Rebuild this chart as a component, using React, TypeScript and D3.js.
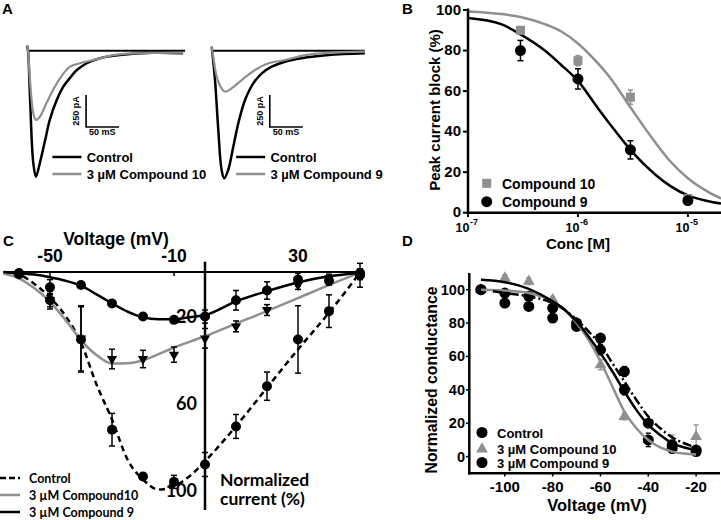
import React from 'react';
import * as d3 from 'd3';

const ARIAL = '"Liberation Sans", Arial, sans-serif';
const CALIBRI = 'Lato, "Open Sans", sans-serif';
const GREY = '#8f8f8f';

// ---- A: current traces, [time ms, current pA]
const leftControl = [[-1.5, 40], [0, 0], [3, -359], [8, -877], [12, -984], [18, -877], [26, -698], [33, -541], [43.5, -385], [53.5, -281], [63.5, -213], [74, -151], [89, -98], [109, -59], [139, -34], [189, -16], [235, -20]];
const leftCmpd10 = [[-1.5, 45], [0, 0], [3, -229], [8, -487], [12, -541], [18, -516], [28, -409], [38, -307], [48.5, -216], [63.5, -125], [79, -98], [99, -73], [129, -34], [165, -20], [235, -16]];
const rightControl = [[0, 31], [5, -229], [10, -620], [15, -932], [19, -997], [25, -932], [32.7, -750], [40.3, -567], [50.5, -385], [63, -255], [76, -177], [91, -125], [111, -86], [136, -59], [177, -34], [232, -20]];
const rightCmpd9 = [[0, 31], [2.4, -47], [7.6, -203], [15, -294], [20, -320], [30, -294], [45.5, -229], [65.6, -151], [86, -98], [111, -73], [141, -34], [177, -16], [232, -8]];

// ---- B: concentration response
const concs = [3e-7, 1e-6, 3e-6, 1e-5];
const block10 = [90, 75, 57, 7];
const block10Err = [1, 2.5, 3.5, 1];
const block9 = [80, 66, 31, 6];
const block9Err = [5, 5, 4.5, 1.5];
const fitConc = [1e-7, 2e-7, 3e-7, 5e-7, 7e-7, 1e-6, 1.5e-6, 2e-6, 3e-6, 5e-6, 7e-6, 1e-5, 1.5e-5, 2e-5];
const fit10 = [99.3, 98, 96.5, 93, 89.5, 83.5, 74, 66, 52, 35, 25, 17, 10.5, 7];
const fit9 = [96, 93, 88, 80, 73, 65, 52, 43, 31, 19, 13, 8.5, 5.8, 4.5];
const bTicks = [-7, -6, -5];

// ---- C: current-voltage
const ivVolt = [-60, -50, -40, -30, -20, -10, 0, 10, 20, 30, 40, 50];
const ivControl = [1, 13, 31, 72.5, 94, 96.5, 88.5, 71, 52.5, 31, 18, 1.5];
const ivControlErr = [1, 4, 15, 7.5, 1, 3, 5.5, 5.5, 6.5, 15.5, 7.5, 5.5];
const ivCmpd10 = [1, 13, 30.5, 40, 40, 38, 30.5, 25, 17.5, 6, 3, 1.5];
const ivCmpd10Err = [1, 3, 15, 4.5, 4, 3.5, 4.5, 2.5, 2.5, 2, 2, 2];
const ivCmpd9 = [0.5, 7, 6, 14.5, 20.5, 22, 20.5, 13, 8.5, 3.5, 4, 0.5];
const ivCmpd9Err = [1, 3.5, 0.5, 0.5, 0.5, 1, 3, 4.5, 4, 3, 2, 2];
const ivFitVolt = [-65, -60, -55, -50, -45, -40, -35, -30, -25, -20, -15, -10, -5, 0, 10, 20, 30, 40, 50];
const ivFitControl = [0.3, 1.3, 5.5, 11.7, 20.2, 32.5, 51.7, 67.8, 86.2, 95.4, 100, 98.5, 93.9, 87, 70.9, 53.2, 35.6, 18.7, 0.3];
const ivFit10 = [0.7, 2.9, 7.5, 13.7, 22.1, 31.3, 38.2, 42.1, 42, 40.6, 37.8, 34.7, 32.1, 29.5, 23.7, 18, 12, 6, 0.3];
const ivFit9 = [0, 0.6, 1.2, 2.4, 4, 6.3, 10.3, 14.4, 18.2, 20.8, 21.7, 21.7, 20.8, 19.8, 13.5, 8.8, 4.8, 2, 0.5];
const ivTopTicks = [-50, -10, 30];
const ivSideTicks = [20, 60, 100];

// ---- D: conductance-voltage
const gvVolt = [-110, -100, -90, -80, -70, -60, -50, -40, -30, -20];
const gvControl = [100, 98, 96, 89, 80, 71, 51, 20, 7, 4];
const gvControlErr = [0, 2, 2, 2, 2, 2, 3, 2, 3, 1];
const gvCmpd10 = [100, 107, 105, 94, 80, 55, 24, 10, 8, 12];
const gvCmpd10Err = [0, 2, 2, 2, 2, 3, 2, 4, 5, 7];
const gvCmpd9 = [100, 92, 90, 83, 78, 64, 40, 10, 5, 3];
const gvCmpd9Err = [0, 2, 2, 2, 2, 3, 3, 4, 3, 1];
const gvFitVolt = [-110, -100, -90, -80, -75, -70, -65, -60, -55, -50, -45, -40, -35, -30, -25, -20];
const gvFitSolid = [106, 104.5, 100.5, 93, 88, 81, 72, 62, 51, 39, 28, 19, 13, 8, 5.5, 4];
const gvFitGrey = [100, 99.5, 98, 93, 88, 80, 70, 57, 42, 27, 17, 10, 5.5, 3, 1.8, 1.2];
const gvFitDashDotVolt = [-105, -100, -90, -80, -75, -70, -65, -60, -55, -50, -45, -40, -35, -30, -25, -20];
const gvFitDashDot = [99, 98, 96, 92, 88, 82, 75, 67, 56, 45, 34, 24, 17, 11.5, 8, 5.5];
const gvXTicks = [-100, -80, -60, -40, -20];
const gvYTicks = [0, 20, 40, 60, 80, 100];

type Pt = [number, number];
const zip = (xs: number[], ys: number[]): Pt[] => xs.map((x, i) => [x, ys[i]]);

function ErrBar({ x, y0, y1, cap = 6, color = '#000', w = 1.5 }: any) {
  return (
    <g stroke={color} strokeWidth={w}>
      <line x1={x} x2={x} y1={y0} y2={y1} />
      <line x1={x - cap / 2} x2={x + cap / 2} y1={y0} y2={y0} />
      <line x1={x - cap / 2} x2={x + cap / 2} y1={y1} y2={y1} />
    </g>
  );
}

function PanelA() {
  const cur = d3.scaleLinear().domain([0, -250]).range([50.7, 82.7]);
  const panels = [
    { x0: 28, control: leftControl, drug: leftCmpd10, label: '3 \u00B5M Compound 10' },
    { x0: 211.7, control: rightControl, drug: rightCmpd9, label: '3 \u00B5M Compound 9' },
  ];
  return (
    <g>
      <text x={2} y={14} fontFamily={ARIAL} fontWeight="bold" fontSize={15}>A</text>
      {panels.map((p, i) => {
        const t = d3.scaleLinear().domain([0, 50]).range([p.x0, p.x0 + 33]);
        const ln = d3.line<number[]>().x(d => t(d[0])).y(d => cur(d[1])).curve(d3.curveCatmullRom);
        const bx = t(88), by0 = cur(-346), by1 = cur(-596);
        return (
          <g key={i}>
            <line x1={t(0)} x2={t(i === 0 ? 238 : 232)} y1={cur(0)} y2={cur(0)} stroke="#000" strokeWidth={2} />
            <path d={ln(p.control) || ''} fill="none" stroke="#000" strokeWidth={2.5} />
            <path d={ln(p.drug) || ''} fill="none" stroke={GREY} strokeWidth={2.2} />
            <path d={`M${bx},${by0}V${by1}H${t(138)}`} fill="none" stroke="#000" strokeWidth={1.6} />
            <text transform={`translate(${bx - 7},${(by0 + by1) / 2}) rotate(-90)`} textAnchor="middle"
              fontFamily={ARIAL} fontWeight="bold" fontSize={9}>250 pA</text>
            <text x={bx + 3} y={by1 + 8} fontFamily={ARIAL} fontWeight="bold" fontSize={9}>50 mS</text>
            <line x1={t(37)} x2={t(81)} y1={157} y2={157} stroke="#000" strokeWidth={2.5} />
            <line x1={t(37)} x2={t(81)} y1={174} y2={174} stroke={GREY} strokeWidth={2.5} />
            <text x={t(89)} y={162} fontFamily={ARIAL} fontWeight="bold" fontSize={13}>Control</text>
            <text x={t(89)} y={179} fontFamily={ARIAL} fontWeight="bold" fontSize={13}>{p.label}</text>
          </g>
        );
      })}
    </g>
  );
}

function PanelB() {
  const x = d3.scaleLog().domain([1e-7, 2e-5]).range([468, 721]);
  const y = d3.scaleLinear().domain([0, 100]).range([212.7, 10]);
  const ln = d3.line<Pt>().x(d => x(d[0])).y(d => y(d[1])).curve(d3.curveMonotoneX);
  return (
    <g fontFamily={ARIAL} fontWeight="bold">
      <text x={402} y={14} fontSize={15}>B</text>
      <path d={ln(zip(fitConc, fit10)) || ''} fill="none" stroke={GREY} strokeWidth={2.5} />
      <path d={ln(zip(fitConc, fit9)) || ''} fill="none" stroke="#000" strokeWidth={2.5} />
      {concs.map((c, i) => (
        <g key={'e' + i}>
          <ErrBar x={x(c)} y0={y(block10[i] + block10Err[i])} y1={y(block10[i] - block10Err[i])} color={GREY} cap={5} />
          <ErrBar x={x(c)} y0={y(block9[i] + block9Err[i])} y1={y(block9[i] - block9Err[i])} cap={6} />
        </g>
      ))}
      {concs.map((c, i) => (
        <rect key={'s' + i} x={x(c) - 4.5} y={y(block10[i]) - 4.5} width={9} height={9} fill={GREY} />
      ))}
      {concs.map((c, i) => (
        <circle key={'c' + i} cx={x(c)} cy={y(block9[i])} r={5.5} fill="#000" />
      ))}
      <line x1={468} x2={468} y1={8.5} y2={214} stroke="#000" strokeWidth={2.5} />
      <line x1={467} x2={721} y1={212.7} y2={212.7} stroke="#000" strokeWidth={2.5} />
      {y.ticks(5).map(v => (
        <g key={v}>
          <line x1={463} x2={468} y1={y(v)} y2={y(v)} stroke="#000" strokeWidth={2} />
          <text x={461} y={y(v) + 4.5} textAnchor="end" fontSize={15}>{v}</text>
        </g>
      ))}
      {bTicks.map(p => (
        <g key={p}>
          <line x1={x(10 ** p)} x2={x(10 ** p)} y1={212.7} y2={217} stroke="#000" strokeWidth={2} />
          <text x={x(10 ** p) + 1.5} y={232} textAnchor="end" fontSize={12.5}>10</text>
          <text x={x(10 ** p) + 2} y={224.5} fontSize={9}>{'-' + -p}</text>
        </g>
      ))}
      <text x={578} y={249} textAnchor="middle" fontSize={15}>Conc [M]</text>
      <text transform="translate(440,110) rotate(-90)" textAnchor="middle" fontSize={15}>Peak current block (%)</text>
      <rect x={482.2} y={178.8} width={9} height={9} fill={GREY} />
      <text x={502} y={188.5} fontSize={14}>Compound 10</text>
      <circle cx={486.7} cy={201.7} r={5.5} fill="#000" />
      <text x={502} y={207} fontSize={14}>Compound 9</text>
    </g>
  );
}

function PanelC() {
  const x = d3.scaleLinear().domain([-50, 30]).range([50, 298]);
  const y = d3.scaleLinear().domain([0, 100]).range([272, 489.5]);
  const ln = d3.line<Pt>().x(d => x(d[0])).y(d => y(d[1])).curve(d3.curveMonotoneX);
  const tri = d3.symbol().type(d3.symbolTriangle).size(45)() || '';
  return (
    <g>
      <text x={3} y={246} fontFamily={ARIAL} fontWeight="bold" fontSize={15}>C</text>
      <text x={116} y={245} textAnchor="middle" fontFamily={ARIAL} fontWeight="bold" fontSize={17.5}>Voltage (mV)</text>
      {ivTopTicks.map(v => (
        <g key={v}>
          <text x={x(v)} y={262} textAnchor="middle" fontFamily={ARIAL} fontWeight="bold" fontSize={17.5}>{v}</text>
          <line x1={x(v)} x2={x(v)} y1={272} y2={276} stroke="#000" strokeWidth={1.5} />
        </g>
      ))}
      <line x1={x(-65)} x2={x(50)} y1={272} y2={272} stroke="#000" strokeWidth={2} />
      <line x1={x(0)} x2={x(0)} y1={261.7} y2={510} stroke="#000" strokeWidth={2.5} />
      <path d={ln(zip(ivFitVolt, ivFitControl)) || ''} fill="none" stroke="#000" strokeWidth={2.5} strokeDasharray="6,4" />
      <path d={ln(zip(ivFitVolt, ivFit10)) || ''} fill="none" stroke={GREY} strokeWidth={2.5} />
      <path d={ln(zip(ivFitVolt, ivFit9)) || ''} fill="none" stroke="#000" strokeWidth={2.5} />
      {ivVolt.map((v, i) => (
        <g key={'e' + i}>
          <ErrBar x={x(v)} y0={y(ivControl[i] - ivControlErr[i])} y1={y(ivControl[i] + ivControlErr[i])} />
          <ErrBar x={x(v)} y0={y(ivCmpd10[i] - ivCmpd10Err[i])} y1={y(ivCmpd10[i] + ivCmpd10Err[i])} />
          <ErrBar x={x(v)} y0={y(ivCmpd9[i] - ivCmpd9Err[i])} y1={y(ivCmpd9[i] + ivCmpd9Err[i])} />
        </g>
      ))}
      {ivVolt.map((v, i) => (
        <path key={'t' + i} d={tri} transform={`translate(${x(v)},${y(ivCmpd10[i])}) rotate(180)`} fill="#000" />
      ))}
      {ivVolt.map((v, i) => (
        <g key={'c' + i}>
          <circle cx={x(v)} cy={y(ivControl[i])} r={5} fill="#000" />
          <circle cx={x(v)} cy={y(ivCmpd9[i])} r={5} fill="#000" />
        </g>
      ))}
      {ivSideTicks.map(v => (
        <text key={v} x={197} y={y(v) + 7.5} textAnchor="end" fontFamily={CALIBRI} fontWeight="bold" fontSize={18}>{v}</text>
      ))}
      <text x={220} y={486} fontFamily={CALIBRI} fontWeight="bold" fontSize={17.5}>Normalized</text>
      <text x={220} y={505} fontFamily={CALIBRI} fontWeight="bold" fontSize={17.5}>current (%)</text>
      <line x1={0} x2={20} y1={478} y2={478} stroke="#000" strokeWidth={2.5} strokeDasharray="6,3" />
      <line x1={0} x2={20} y1={495} y2={495} stroke={GREY} strokeWidth={2.5} />
      <line x1={0} x2={20} y1={512} y2={512} stroke="#000" strokeWidth={2.5} />
      <g fontFamily={CALIBRI} fontWeight="bold" fontSize={12.5}>
        <text x={29} y={482.5}>Control</text>
        <text x={29} y={499.5}>3 µM Compound10</text>
        <text x={29} y={516.5}>3 µM Compound 9</text>
      </g>
    </g>
  );
}

function PanelD() {
  const x = d3.scaleLinear().domain([-115, -10]).range([469, 720]);
  const y = d3.scaleLinear().domain([-10, 110]).range([473.3, 273]);
  const ln = d3.line<Pt>().x(d => x(d[0])).y(d => y(d[1])).curve(d3.curveMonotoneX);
  const tri = d3.symbol().type(d3.symbolTriangle).size(60)() || '';
  return (
    <g fontFamily={ARIAL} fontWeight="bold">
      <text x={402} y={246} fontSize={15}>D</text>
      {gvVolt.map((v, i) => (
        <g key={'e' + i}>
          <ErrBar x={x(v)} y0={y(gvCmpd10[i] + gvCmpd10Err[i])} y1={y(gvCmpd10[i] - gvCmpd10Err[i])} color={GREY} cap={5} w={1.3} />
          <ErrBar x={x(v)} y0={y(gvControl[i] + gvControlErr[i])} y1={y(gvControl[i] - gvControlErr[i])} cap={5} w={1.3} />
          <ErrBar x={x(v)} y0={y(gvCmpd9[i] + gvCmpd9Err[i])} y1={y(gvCmpd9[i] - gvCmpd9Err[i])} cap={5} w={1.3} />
        </g>
      ))}
      {gvVolt.map((v, i) => (
        <path key={'t' + i} d={tri} transform={`translate(${x(v)},${y(gvCmpd10[i])})`} fill={GREY} />
      ))}
      {gvVolt.map((v, i) => (
        <g key={'c' + i}>
          <circle cx={x(v)} cy={y(gvControl[i])} r={5.5} fill="#000" />
          <circle cx={x(v)} cy={y(gvCmpd9[i])} r={5.5} fill="#000" />
        </g>
      ))}
      <path d={ln(zip(gvFitVolt, gvFitGrey)) || ''} fill="none" stroke={GREY} strokeWidth={2.5} />
      <path d={ln(zip(gvFitVolt, gvFitSolid)) || ''} fill="none" stroke="#000" strokeWidth={2.5} />
      <path d={ln(zip(gvFitDashDotVolt, gvFitDashDot)) || ''} fill="none" stroke="#000" strokeWidth={2.5} strokeDasharray="9,3,2,3" />
      <line x1={469.3} x2={469.3} y1={273} y2={474.5} stroke="#000" strokeWidth={2.5} />
      <line x1={468} x2={720} y1={473.3} y2={473.3} stroke="#000" strokeWidth={2.5} />
      {gvYTicks.map(v => (
        <g key={v}>
          <line x1={466} x2={469} y1={y(v)} y2={y(v)} stroke="#000" strokeWidth={1.5} />
          <text x={465} y={y(v) + 5} textAnchor="end" fontSize={14.5}>{v}</text>
        </g>
      ))}
      {gvXTicks.map(v => (
        <g key={v}>
          <line x1={x(v)} x2={x(v)} y1={473.3} y2={476.5} stroke="#000" strokeWidth={1.5} />
          <text x={x(v)} y={492} textAnchor="middle" fontSize={15}>{v}</text>
        </g>
      ))}
      <text x={597} y={511} textAnchor="middle" fontSize={16.5}>Voltage (mV)</text>
      <text transform="translate(437,380) rotate(-90)" textAnchor="middle" fontSize={15.8}>Normalized conductance</text>
      <circle cx={482} cy={432.5} r={5.5} fill="#000" />
      <path d={tri} transform="translate(482,449)" fill={GREY} />
      <circle cx={482} cy={462.5} r={5.5} fill="#000" />
      <g fontSize={13}>
        <text x={497} y={437.5}>Control</text>
        <text x={497} y={454}>3 µM Compound 10</text>
        <text x={497} y={467.5}>3 µM Compound 9</text>
      </g>
    </g>
  );
}

export default function App() {
  return (
    <svg width={721} height={520} viewBox="0 0 721 520"
      style={{ position: 'absolute', left: 0, top: 0, background: '#fff' }}>
      <PanelA />
      <PanelB />
      <PanelC />
      <PanelD />
    </svg>
  );
}
